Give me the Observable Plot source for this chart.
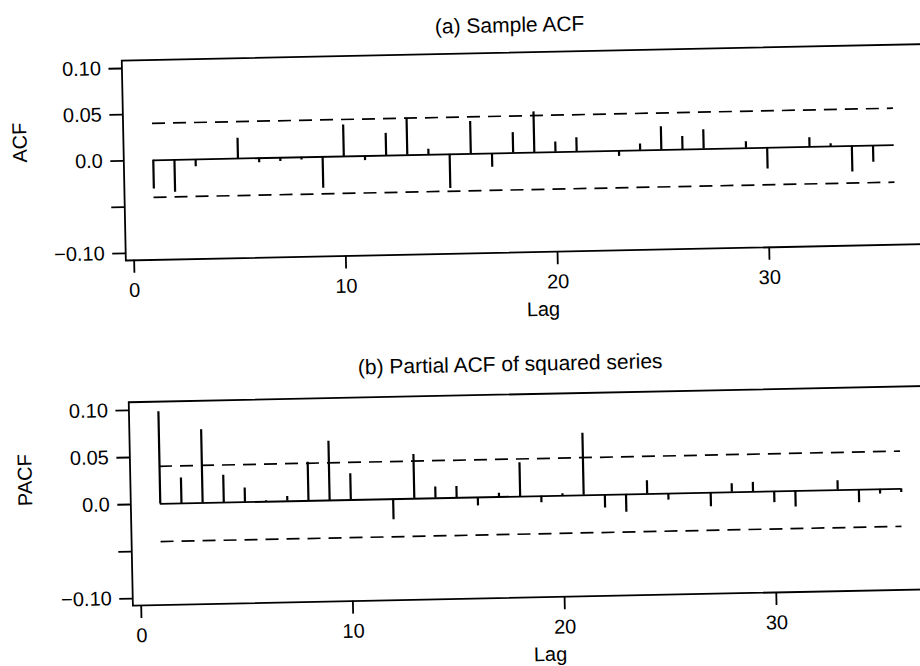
<!DOCTYPE html>
<html><head><meta charset="utf-8">
<script src="https://cdn.jsdelivr.net/npm/d3@7"></script>
<script src="https://cdn.jsdelivr.net/npm/@observablehq/plot@0.6"></script>
<style>
html,body{margin:0;padding:0;background:#fff;overflow:hidden;width:920px;height:666px;}
#page{position:absolute;left:0;top:0;width:960px;height:700px;transform:rotate(-1.17deg);transform-origin:0 0;font-family:"Liberation Sans",Arial,sans-serif;color:#000;}
.title{position:absolute;white-space:nowrap;font-size:21px;line-height:1;transform:translate(-50%,-50%);}
.panel{position:absolute;left:0;}
svg [aria-label$="axis tick"] path{stroke-width:1.8px;}
</style></head><body>
<div id="page">
<div class="title" style="left:509px;top:34.6px">(a) Sample ACF</div>
<div class="panel" id="pa" style="top:0px"></div>
<div class="title" style="left:502.6px;top:374.1px">(b) Partial ACF of squared series</div>
<div class="panel" id="pb" style="top:340px"></div>
</div>
<script>
const lags = [1,2,3,4,5,6,7,8,9,10,11,12,13,14,15,16,17,18,19,20,21,22,23,24,25,26,27,28,29,30,31,32,33,34,35,36];
const acfValues = [-0.031,-0.035,-0.008,0.000,0.022,-0.005,-0.004,-0.003,-0.034,0.034,-0.005,0.024,0.040,0.006,-0.037,0.035,-0.015,0.022,0.044,0.011,0.015,0.000,-0.006,0.007,0.025,0.014,0.021,0.000,0.007,-0.023,0.000,0.010,0.003,-0.028,-0.018,0.000];
const pacfValues = [0.098,0.027,0.078,0.029,0.015,0.001,0.005,0.041,0.063,0.028,0.000,-0.022,0.047,0.012,0.012,-0.009,0.004,0.036,-0.007,0.002,0.066,-0.014,-0.019,0.014,-0.007,0.000,-0.015,0.009,0.010,-0.012,-0.017,0.000,0.010,-0.014,-0.005,-0.004];
const ciBound = 0.040;
const xTicks = [0,10,20,30];
const yTickValues = [-0.10,-0.05,0,0.05,0.10];
const yTickLabels = ["\u22120.10","","0.0","0.05","0.10"];
const xLabel = "Lag";

function panel({values, yLabel, height, marginTop, marginBottom, yDomain, labelDx}) {
  const data = lags.map((lag, i) => ({lag, value: values[i]}));
  const first = lags[0], last = lags[lags.length - 1];
  return Plot.plot({
    width: 953, height, marginLeft: 120, marginRight: 0, marginTop, marginBottom,
    style: {fontFamily: '"Liberation Sans", Arial, sans-serif', fontSize: "20px", color: "#000", background: "transparent", overflow: "visible"},
    x: {domain: [-0.392, 38.95], ticks: xTicks, tickSize: 13, tickPadding: 9.5, label: null},
    y: {domain: yDomain, ticks: yTickValues, tickFormat: d => yTickLabels[yTickValues.indexOf(d)], tickSize: 13, tickPadding: 8, label: null},
    marks: [
      Plot.frame({stroke: "#000", strokeWidth: 1.8}),
      Plot.ruleY([0], {x1: first, x2: last, stroke: "#000", strokeWidth: 1.8}),
      Plot.ruleY([ciBound, -ciBound], {x1: first, x2: last, stroke: "#000", strokeWidth: 1.7, strokeDasharray: "13,8"}),
      Plot.ruleX(data, {x: "lag", y1: 0, y2: "value", stroke: "#000", strokeWidth: 2.2}),
      Plot.text([yLabel], {text: d => d, frameAnchor: "left", dx: labelDx, rotate: -90, lineAnchor: "middle", fontSize: 20, fill: "#000"}),
      Plot.text([xLabel], {text: d => d, frameAnchor: "bottom", dy: 57.5, lineAnchor: "middle", fontSize: 20, fill: "#000"})
    ]
  });
}

document.getElementById("pa").append(panel({values: acfValues, yLabel: "ACF", height: 340, marginTop: 62.5, marginBottom: 77.5, yDomain: [-0.1077, 0.1086], labelDx: -103.3}));
document.getElementById("pb").append(panel({values: pacfValues, yLabel: "PACF", height: 345, marginTop: 64.3, marginBottom: 77.3, yDomain: [-0.1075, 0.1087], labelDx: -105}));
</script>
</body></html>
